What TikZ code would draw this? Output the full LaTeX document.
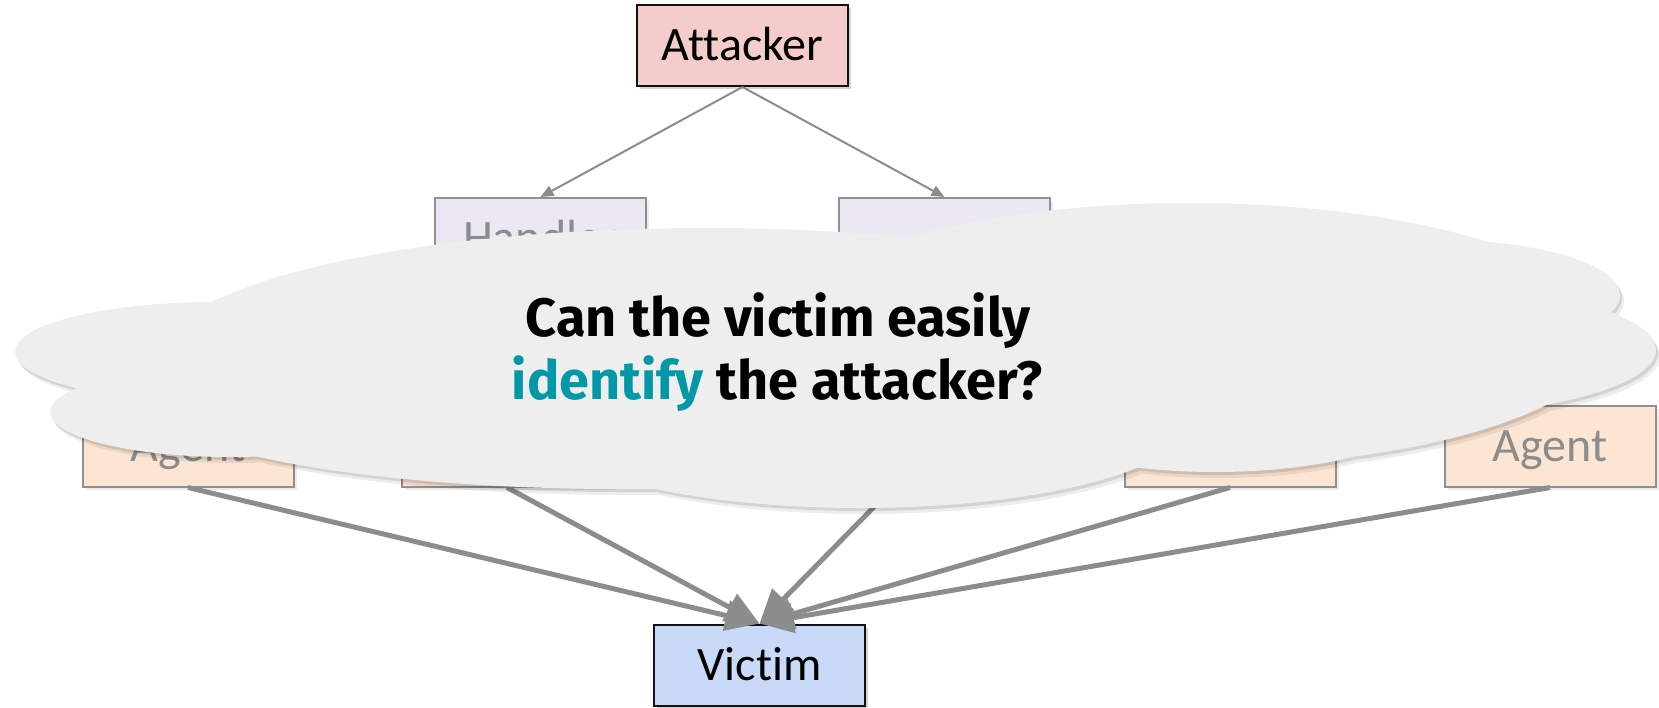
\documentclass[tikz,border=0pt]{standalone}
\usepackage{fontspec}
\setmainfont{Carlito}[Ligatures=NoCommon]
\newfontfamily\firafont{Fira Sans}
\usetikzlibrary{arrows.meta,shadows}
\definecolor{attfill}{HTML}{F4CCCC}
\definecolor{handfill}{HTML}{EBE8F4}
\definecolor{agentfill}{HTML}{FCE6D3}
\definecolor{victfill}{HTML}{C9DAF8}
\definecolor{darkline}{HTML}{111111}
\definecolor{fadeline}{HTML}{909090}
\definecolor{fadetext}{HTML}{8C8C8C}
\definecolor{arrowgrey}{HTML}{8C8C8C}
\definecolor{cloudfill}{HTML}{EEEEEE}
\definecolor{tealword}{HTML}{0097A7}
\begin{document}
\begin{tikzpicture}[x=1pt,y=-1pt,
  box/.style={draw, line width=2pt, minimum width=211pt, minimum height=81pt,
    inner sep=0pt, text height=30.9pt, text depth=0pt,
    font=\fontsize{48}{52}\selectfont},
  mainbox/.style={box, draw=darkline,
    drop shadow={shadow xshift=3pt, shadow yshift=-3pt, opacity=0.35}},
  fadedbox/.style={box, draw=fadeline, text=fadetext,
    drop shadow={shadow xshift=3pt, shadow yshift=-3pt, opacity=0.15}},
  thinarrow/.style={draw=arrowgrey, line width=2pt, -{Triangle[length=13pt,width=11pt]}},
  thickarrow/.style={draw=arrowgrey, line width=5pt, -{Triangle[length=34pt,width=30pt]}},
  question/.style={font=\firafont\bfseries\fontsize{54}{63}\selectfont, inner sep=0pt, anchor=base}
]
\useasboundingbox (0,0) rectangle (1659,707);

\node[mainbox, fill=attfill] (attacker) at (742.5,45.5) {Attacker};
\node[fadedbox, fill=handfill] (handlerL) at (540.5,238.5) {Handler};
\node[fadedbox, fill=handfill] (handlerR) at (944.5,238.5) {};
\node[fadedbox, fill=agentfill] (agent1) at (188,446) {Agent};
\node[fadedbox, fill=agentfill] (agent2) at (507,446) {Agent};
\node[fadedbox, fill=agentfill] (agent3) at (893,446) {Agent};
\node[fadedbox, fill=agentfill] (agent4) at (1230,446) {Agent};
\node[fadedbox, fill=agentfill] (agent5) at (1550,446) {Agent};
\node[mainbox, fill=victfill] (victim) at (759.5,665) {Victim};

\draw[thinarrow] (attacker.south) -- (handlerL.north);
\draw[thinarrow] (attacker.south) -- (handlerR.north);
\foreach \a in {agent1,agent2,agent3,agent4,agent5}
  \draw[thickarrow] (\a.south) -- (victim.north);

\def\lobes{215/352/200/50, 705/357/545/129, 1190/335/420/132, 1440/295/180/55,
  1396/350/260/67, 1215/400/225/72, 860/420/330/88, 620/395/480/94, 230/412/180/45}
\fill[black, opacity=0.07, shift={(4,6)}]
  \foreach \cx/\cy/\rx/\ry in \lobes {(\cx,\cy) ellipse [x radius=\rx pt, y radius=\ry pt]};
\fill[black, opacity=0.11, shift={(2,3)}]
  \foreach \cx/\cy/\rx/\ry in \lobes {(\cx,\cy) ellipse [x radius=\rx pt, y radius=\ry pt]};
\fill[cloudfill]
  \foreach \cx/\cy/\rx/\ry in \lobes {(\cx,\cy) ellipse [x radius=\rx pt, y radius=\ry pt]};

\node[question] (q1) at (778,336) {Can the victim easily};
\node[question] (q2) at (777,399) {\textcolor{tealword}{identify} the attacker?};
\end{tikzpicture}
\end{document}
